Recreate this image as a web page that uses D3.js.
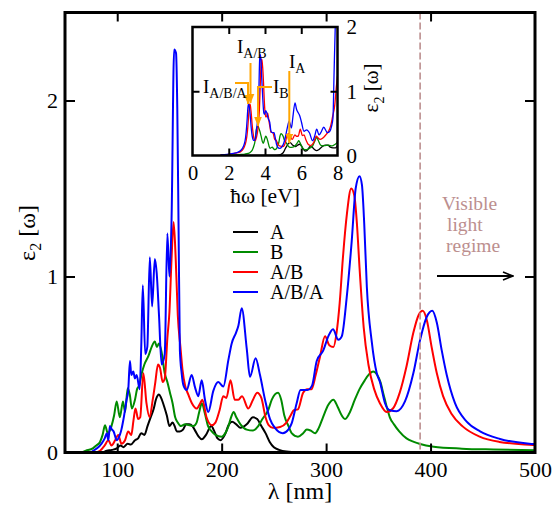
<!DOCTYPE html>
<html>
<head>
<meta charset="utf-8">
<script src="https://cdn.jsdelivr.net/npm/d3@7"></script>
<style>
  body { margin: 0; background: #fff; }
  text { font-family: "Liberation Serif", "Times New Roman", serif; }
</style>
</head>
<body>
<svg id="chart" width="556" height="505"></svg>
<script>
// Imaginary dielectric function ε2 vs wavelength, pairs of [λ (nm), ε2]
const specA = [[50,0],[85,0],[90,0.01],[95,0.015],[100,0.025],[103,0.04],[106,0.03],[110,0.05],[113,0.045],[117,0.07],[120,0.08],[123,0.11],[126,0.1],[129,0.15],[132,0.2],[135,0.25],[137,0.3],[140,0.33],[142,0.31],[145,0.26],[147.5,0.21],[150,0.15],[153,0.17],[155,0.15],[157,0.12],[160,0.12],[163,0.13],[166,0.16],[169,0.16],[172,0.15],[175,0.12],[178,0.09],[181,0.075],[185,0.1],[190,0.15],[193,0.12],[196,0.08],[199,0.07],[203,0.1],[207,0.16],[210,0.175],[214,0.16],[218,0.14],[224,0.16],[230,0.2],[234,0.19],[238,0.15],[242,0.11],[246,0.06],[250,0.03],[255,0.015],[262,0.006],[275,0.002],[300,0],[500,0],[800,0]];

const specB = [[50,0],[65,0],[70,0.01],[77,0.025],[80,0.04],[83.5,0.06],[86,0.1],[88.3,0.155],[91,0.11],[94.5,0.15],[97,0.21],[99.5,0.29],[102.5,0.2],[105.5,0.29],[107.5,0.23],[110,0.365],[112,0.33],[114,0.25],[117,0.3],[119,0.36],[121,0.38],[123.5,0.45],[126,0.5],[130,0.55],[133,0.6],[136,0.63],[138,0.6],[140,0.62],[142.5,0.57],[145.5,0.45],[148,0.4],[150.5,0.34],[153,0.28],[155.5,0.2],[158,0.17],[161,0.15],[165,0.16],[169.5,0.155],[173,0.15],[176,0.17],[178.5,0.23],[181,0.28],[184,0.22],[187,0.15],[190.5,0.12],[194,0.1],[200,0.09],[203.5,0.11],[206.5,0.15],[209,0.2],[211.5,0.23],[214,0.2],[218,0.16],[224,0.13],[230,0.125],[235,0.15],[239,0.19],[244.5,0.24],[248,0.3],[251,0.33],[254,0.34],[257,0.3],[260,0.21],[264,0.15],[267,0.11],[273,0.09],[278,0.11],[281.5,0.13],[285,0.125],[289.5,0.11],[293,0.14],[297,0.2],[302,0.27],[307,0.3],[311,0.26],[315,0.21],[318,0.19],[322,0.22],[327.5,0.3],[332,0.36],[337,0.41],[342,0.45],[345,0.46],[349,0.44],[352,0.4],[355,0.33],[358,0.26],[361,0.2],[365,0.16],[370,0.12],[377,0.08],[384,0.06],[390,0.048],[403,0.033],[430,0.022],[460,0.017],[500,0.013],[800,0.003]];

const specAB = [[50,0],[78,0],[83.5,0.01],[88,0.04],[91.5,0.07],[94.5,0.04],[98,0.07],[101,0.1],[104,0.05],[107.5,0.07],[110.5,0.12],[113.5,0.1],[115.5,0.18],[117.5,0.25],[120,0.19],[122,0.2],[125,0.45],[128,0.28],[131,0.2],[134,0.3],[136.5,0.4],[139,0.5],[141,0.48],[143.5,0.4],[145.5,0.42],[148,0.65],[150,0.8],[152,1.1],[154,1.31],[156,1.1],[158,0.78],[160.5,0.6],[162.5,0.47],[165,0.38],[168,0.33],[171.5,0.28],[176,0.25],[179.5,0.28],[181.5,0.3],[185.5,0.2],[190.5,0.155],[194,0.17],[198,0.24],[201.5,0.32],[204.5,0.31],[208.5,0.41],[212.5,0.3],[216,0.3],[219.5,0.32],[225.5,0.25],[230,0.3],[234,0.34],[238,0.31],[242,0.2],[245,0.155],[249,0.14],[256,0.145],[262,0.17],[266,0.21],[269,0.24],[273,0.245],[278,0.34],[282,0.36],[286,0.36],[290,0.44],[294,0.54],[299,0.66],[303,0.61],[307,0.6],[310,0.68],[313,0.85],[316,1.1],[320,1.36],[324,1.5],[327,1.46],[329.5,1.3],[332,1.05],[336,0.71],[340.5,0.5],[346,0.36],[351.5,0.28],[358,0.23],[364,0.25],[370.5,0.34],[377,0.49],[383.5,0.68],[388.5,0.78],[392.5,0.805],[396.5,0.75],[401,0.6],[406,0.45],[412,0.32],[420,0.22],[431,0.147],[447,0.09],[466,0.06],[498,0.043],[550,0.03],[650,0.015],[800,0.008]];

const specABA = [[50,0],[75,0],[77,0.01],[81,0.025],[85,0.05],[88,0.08],[90,0.11],[91.5,0.07],[93,0.15],[95,0.13],[96.5,0.12],[99.5,0.07],[102.5,0.1],[104,0.13],[106,0.19],[109,0.3],[110.5,0.35],[112.2,0.52],[113.5,0.44],[115.4,0.46],[117,0.42],[118.6,0.44],[121.5,0.36],[123,0.6],[124.5,0.95],[126.8,0.56],[128.8,0.6],[131.2,1.11],[133.4,0.83],[136,1.1],[137.8,1.02],[140,0.78],[142.5,0.5],[145.5,0.56],[148,1.245],[150,1.0],[152,1.32],[154.5,2.29],[156.3,2.27],[157.5,1.96],[158.7,1.3],[160,0.58],[161.7,0.45],[163.5,0.38],[166.5,0.355],[171.3,0.44],[174.5,0.37],[177.6,0.32],[180.9,0.41],[184,0.3],[187.2,0.23],[192,0.35],[196.8,0.4],[201.6,0.375],[206.4,0.525],[209.6,0.62],[213.7,0.68],[216,0.72],[219.2,0.82],[224,0.59],[227.1,0.43],[232.5,0.535],[236.7,0.44],[241.5,0.3],[246.3,0.19],[251,0.14],[258.5,0.11],[263.8,0.13],[267,0.165],[271.8,0.28],[275.5,0.355],[282,0.355],[286.5,0.38],[291,0.52],[297.3,0.58],[302.1,0.66],[306.6,0.7],[311.7,0.64],[315,0.66],[319.7,0.88],[324.5,1.2],[328.3,1.5],[332,1.57],[334.3,1.52],[336.5,1.3],[339,0.94],[343.7,0.63],[348.5,0.45],[351.6,0.4],[356.4,0.28],[361,0.24],[367.6,0.235],[375.5,0.29],[383.5,0.45],[390,0.64],[396.3,0.77],[401.7,0.805],[405.9,0.74],[410.7,0.58],[415.5,0.44],[423.4,0.28],[434.6,0.175],[447.4,0.12],[466.5,0.077],[498.4,0.048],[550,0.033],[650,0.018],[800,0.01]];

const seriesNames = ["A", "B", "A/B", "A/B/A"];
const seriesColors = ["#000000", "#008b00", "#ff0000", "#0000ff"];
const seriesData = [specA, specB, specAB, specABA];

const mainXTicks = [100, 200, 300, 400, 500];
const mainYTicks = [0, 1, 2];
const insetXTicks = [0, 2, 4, 6, 8];
const insetYTicks = [0, 1, 2];
const visibleEdge = 390;          // nm
const hc = 1239.84;               // eV·nm

const svg = d3.select("#chart");
const font = '"Liberation Serif", "Times New Roman", serif';

// rotated title ε2 [ω], centred on (cx, cy)
function epsTitle(cx, cy, size, subSize) {
  const t = svg.append("text").attr("transform", `translate(${cx},${cy}) rotate(-90)`)
    .attr("font-size", size);
  t.append("tspan").text("ε");
  t.append("tspan").attr("font-size", subSize).attr("dy", size * 0.27).text("2");
  t.append("tspan").attr("dy", -size * 0.27).text(" [ω]");
  const w = t.node().getComputedTextLength();
  t.attr("x", -w / 2);
  return t;
}

// ---------- main panel ----------
const M = { left: 65, right: 535, top: 12.5, bottom: 452.5 };
const x = d3.scaleLinear().domain([50, 500]).range([M.left, M.right]);
const y = d3.scaleLinear().domain([0, 2.5]).range([M.bottom, M.top]);

const defs = svg.append("defs");
defs.append("clipPath").attr("id", "clipMain")
  .append("rect").attr("x", M.left).attr("y", M.top)
  .attr("width", M.right - M.left).attr("height", M.bottom - M.top);

const line = d3.line().x(d => x(d[0])).y(d => y(d[1])).curve(d3.curveMonotoneX);

const gMain = svg.append("g").attr("clip-path", "url(#clipMain)");
seriesData.forEach((s, i) => {
  gMain.append("path").attr("d", line(s)).attr("fill", "none")
    .attr("stroke", seriesColors[i]).attr("stroke-width", 2)
    .attr("stroke-linejoin", "round");
});

// visible light boundary
svg.append("line")
  .attr("x1", x(visibleEdge)).attr("x2", x(visibleEdge))
  .attr("y1", M.top).attr("y2", M.bottom)
  .attr("stroke", "#bc8f8f").attr("stroke-width", 1.6)
  .attr("stroke-dasharray", "7,3");

// axes (inward ticks)
function styleAxis(g) {
  g.select(".domain").remove();
  g.selectAll(".tick line").attr("stroke", "#000").attr("stroke-width", 2);
  g.selectAll(".tick text").attr("font-family", font).attr("fill", "#000");
}
const axB = svg.append("g").attr("transform", `translate(0,${M.bottom})`)
  .call(d3.axisBottom(x).tickValues(mainXTicks).tickSize(-9).tickFormat(d3.format("d")));
styleAxis(axB);
axB.selectAll(".tick text").attr("font-size", 22).attr("y", 24).attr("dy", 0);
axB.selectAll(".tick").filter(d => d === 500).select("line").remove();

const axT = svg.append("g").attr("transform", `translate(0,${M.top})`)
  .call(d3.axisTop(x).tickValues(mainXTicks.filter(d => d < 500)).tickSize(-9).tickFormat(""));
styleAxis(axT);

const axL = svg.append("g").attr("transform", `translate(${M.left},0)`)
  .call(d3.axisLeft(y).tickValues(mainYTicks).tickSize(-10).tickPadding(7).tickFormat(d3.format("d")));
styleAxis(axL);
axL.selectAll(".tick text").attr("font-size", 22).attr("dy", "0.33em");
axL.selectAll(".tick").filter(d => d === 0).select("line").remove();

const axR = svg.append("g").attr("transform", `translate(${M.right},0)`)
  .call(d3.axisRight(y).tickValues(mainYTicks.filter(d => d > 0)).tickSize(-10).tickFormat(""));
styleAxis(axR);

svg.append("rect").attr("x", M.left).attr("y", M.top)
  .attr("width", M.right - M.left).attr("height", M.bottom - M.top)
  .attr("fill", "none").attr("stroke", "#000").attr("stroke-width", 3);

// axis titles
svg.append("text").attr("x", (M.left + M.right) / 2).attr("y", 499)
  .attr("text-anchor", "middle").attr("font-size", 24).text("λ [nm]");
epsTitle(35, 233, 24, 16);

// legend
const legend = svg.append("g");
seriesNames.forEach((n, i) => {
  const ly = 232 + i * 20;
  legend.append("line").attr("x1", 233).attr("x2", 258).attr("y1", ly).attr("y2", ly)
    .attr("stroke", seriesColors[i]).attr("stroke-width", 2);
  legend.append("text").attr("x", 270).attr("y", ly + 6.5).attr("font-size", 20).text(n);
});

// visible light note + arrow
const note = ["Visible", "light", "regime"];
const noteX = [442, 447, 446];
note.forEach((t, i) => {
  svg.append("text").attr("x", noteX[i]).attr("y", 210 + i * 21)
    .attr("font-size", 19.5).attr("fill", "#bc8f8f").text(t);
});
defs.append("marker").attr("id", "openHead").attr("viewBox", "0 0 12 10")
  .attr("refX", 11).attr("refY", 5).attr("markerWidth", 12).attr("markerHeight", 10)
  .attr("markerUnits", "userSpaceOnUse").attr("orient", "auto")
  .append("path").attr("d", "M1,1 L11,5 L1,9").attr("fill", "none")
  .attr("stroke", "#000").attr("stroke-width", 1.6);
svg.append("line").attr("x1", 437).attr("x2", 513).attr("y1", 276).attr("y2", 276)
  .attr("stroke", "#000").attr("stroke-width", 1.8).attr("marker-end", "url(#openHead)");

// ---------- inset: same spectra vs photon energy ----------
const I = { left: 192.5, right: 337.5, top: 27, bottom: 155.5 };
const xi = d3.scaleLinear().domain([0, 8]).range([I.left, I.right]);
const yi = d3.scaleLinear().domain([0, 2]).range([I.bottom, I.top]);

svg.append("rect").attr("x", I.left).attr("y", I.top)
  .attr("width", I.right - I.left).attr("height", I.bottom - I.top).attr("fill", "#fff");
defs.append("clipPath").attr("id", "clipInset")
  .append("rect").attr("x", I.left).attr("y", I.top)
  .attr("width", I.right - I.left).attr("height", I.bottom - I.top);

const lineE = d3.line().x(d => xi(hc / d[0])).y(d => yi(d[1])).curve(d3.curveMonotoneX);
const gIn = svg.append("g").attr("clip-path", "url(#clipInset)");
seriesData.forEach((s, i) => {
  const pts = s.filter(d => d[0] >= 140).slice().reverse();
  gIn.append("path").attr("d", lineE(pts)).attr("fill", "none")
    .attr("stroke", seriesColors[i]).attr("stroke-width", 1.3);
});

const iaB = svg.append("g").attr("transform", `translate(0,${I.bottom})`)
  .call(d3.axisBottom(xi).tickValues(insetXTicks).tickSize(-7).tickFormat(d3.format("d")));
styleAxis(iaB);
iaB.selectAll(".tick text").attr("font-size", 20.5).attr("y", 24).attr("dy", 0);
iaB.selectAll(".tick").filter(d => d === 0 || d === 8).select("line").remove();

const iaT = svg.append("g").attr("transform", `translate(0,${I.top})`)
  .call(d3.axisTop(xi).tickValues(insetXTicks.filter(d => d > 0 && d < 8)).tickSize(-7).tickFormat(""));
styleAxis(iaT);

const iaL = svg.append("g").attr("transform", `translate(${I.left},0)`)
  .call(d3.axisLeft(yi).tickValues([1]).tickSize(-7).tickFormat(""));
styleAxis(iaL);

const iaR = svg.append("g").attr("transform", `translate(${I.right},0)`)
  .call(d3.axisRight(yi).tickValues(insetYTicks).tickSize(-7).tickPadding(9).tickFormat(d3.format("d")));
styleAxis(iaR);
iaR.selectAll(".tick text").attr("font-size", 21).attr("dy", "0.33em");
iaR.selectAll(".tick").filter(d => d !== 1).select("line").remove();

svg.append("rect").attr("x", I.left).attr("y", I.top)
  .attr("width", I.right - I.left).attr("height", I.bottom - I.top)
  .attr("fill", "none").attr("stroke", "#000").attr("stroke-width", 2.5);

svg.append("text").attr("x", 265).attr("y", 203).attr("text-anchor", "middle")
  .attr("font-size", 21.5).text("ħω [eV]");
epsTitle(378, 88, 21, 14);

// transition markers
defs.append("marker").attr("id", "orangeHead").attr("viewBox", "0 0 10 8")
  .attr("refX", 9.5).attr("refY", 4).attr("markerWidth", 10).attr("markerHeight", 8)
  .attr("markerUnits", "userSpaceOnUse").attr("orient", "auto")
  .append("path").attr("d", "M0,0 L10,4 L0,8 Z").attr("fill", "#ffa500");

const peakMarks = [
  { sub: "A/B/A", lx: 203, ly: 93, path: [[235, 83], [248, 83], [248, 104]] },
  { sub: "A/B",   lx: 237, ly: 53, path: [[250.5, 63], [250.5, 103]] },
  { sub: "B",     lx: 273, ly: 93, path: [[272, 87], [258, 87], [258, 126]] },
  { sub: "A",     lx: 289, ly: 68, path: [[289.3, 71], [289.3, 143]] }
];
peakMarks.forEach(m => {
  svg.append("path").attr("d", d3.line()(m.path)).attr("fill", "none")
    .attr("stroke", "#ffa500").attr("stroke-width", 2).attr("marker-end", "url(#orangeHead)");
  const t = svg.append("text").attr("x", m.lx).attr("y", m.ly).attr("font-size", 19);
  t.append("tspan").text("I");
  t.append("tspan").attr("font-size", 14).attr("dy", 5).text(m.sub);
});
</script>
</body>
</html>
